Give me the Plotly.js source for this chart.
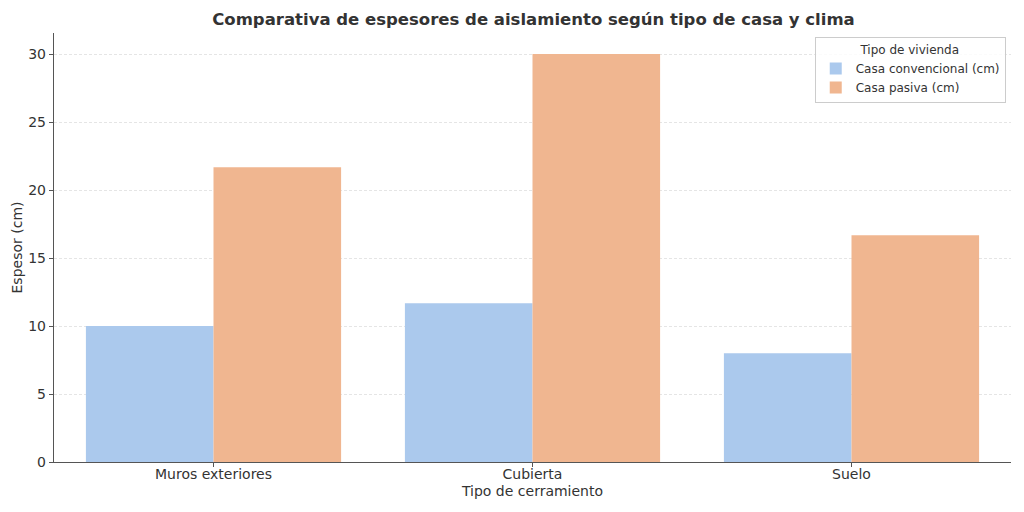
<!DOCTYPE html>
<html><head><meta charset="utf-8">
<script src="https://cdn.plot.ly/plotly-3.0.1.min.js"></script>
<style>html,body{margin:0;padding:0;background:#fff}#chart{width:1024px;height:512px}</style>
</head><body><div id="chart"></div>
<script>
const categories = ["Muros exteriores", "Cubierta", "Suelo"];
const convencional = [10, 11.67, 8];
const pasiva = [21.67, 30, 16.67];
const seriesNames = ["Casa convencional (cm)", "Casa pasiva (cm)"];
const yTicks = [0, 5, 10, 15, 20, 25, 30];

const font = "DejaVu Sans, sans-serif";
const data = [
  {type: "bar", x: categories, y: convencional, name: seriesNames[0],
   marker: {color: "#abc9ed", line: {width: 0}}},
  {type: "bar", x: categories, y: pasiva, name: seriesNames[1],
   marker: {color: "#f0b690", line: {width: 0}}}
];
const layout = {
  width: 1024, height: 512,
  paper_bgcolor: "#fff", plot_bgcolor: "#fff",
  margin: {l: 54, r: 13, t: 33, b: 50},
  barmode: "group", bargap: 0.2, bargroupgap: 0,
  font: {family: font, color: "#333", size: 14},
  title: {text: "<b>Comparativa de espesores de aislamiento según tipo de casa y clima</b>",
          x: 0.521, xanchor: "center", y: 0.973, yanchor: "top",
          font: {family: font, size: 16.5, color: "#333"}},
  xaxis: {range: [-0.5, 2.5], showline: true, linecolor: "#555", linewidth: 1.2,
          ticks: "outside", ticklen: 4, tickcolor: "#555", showgrid: false,
          ticklabelstandoff: -5,
          tickfont: {size: 14, color: "#333"},
          title: {text: "Tipo de cerramiento", standoff: 5, font: {size: 14, color: "#333"}}},
  yaxis: {range: [0, 31.55], tickvals: yTicks, showline: true, linecolor: "#555", linewidth: 1.2,
          ticks: "outside", ticklen: 4, tickcolor: "#555",
          showgrid: true, gridcolor: "#dedede", griddash: "3px,2px", gridwidth: 0.8,
          zeroline: false, tickfont: {size: 14, color: "#333"},
          title: {text: "Espesor (cm)", standoff: 2, font: {size: 14, color: "#333"}}},
  legend: {x: 0.9945, xanchor: "right", y: 0.99, yanchor: "top",
           bgcolor: "rgba(255,255,255,0.85)", bordercolor: "#ccc", borderwidth: 1,
           font: {size: 12, color: "#333"},
           title: {text: "Tipo de vivienda", side: "top center", font: {size: 12, color: "#333"}},
           itemwidth: 30, tracegroupgap: 0},
  showlegend: true
};
Plotly.newPlot("chart", data, layout, {displayModeBar: false, staticPlot: true});
</script></body></html>
